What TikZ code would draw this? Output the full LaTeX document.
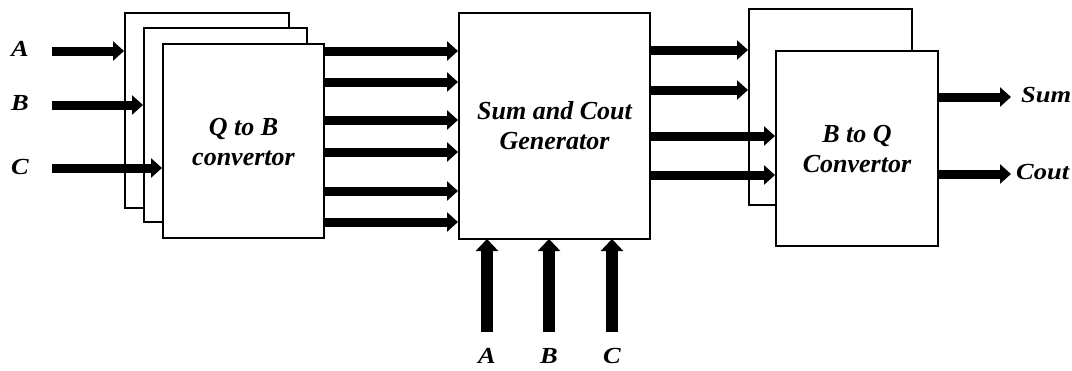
\documentclass[tikz,border=0pt]{standalone}
\usepackage{fontspec}
\setmainfont{Liberation Serif}
\newfontfamily\widefont[FakeStretch=1.15]{Liberation Serif}
\usetikzlibrary{arrows.meta}
\begin{document}
\begin{tikzpicture}[x=1pt,y=-1pt,
  blk/.style={draw,line width=2pt,fill=white,inner sep=0pt,anchor=north west},
  lbl/.style={font=\widefont\fontsize{23}{26}\selectfont\bfseries\itshape},
  olbl/.style={font=\widefont\fontsize{23}{26}\selectfont\bfseries\itshape,anchor=west,inner sep=0pt},
  txt/.style={font=\fontsize{26}{30}\selectfont\bfseries\itshape,align=center},
  arr/.style={line width=9pt,-{Triangle[length=11pt,width=19pt]}},
  arrv/.style={line width=12pt,-{Triangle[length=12pt,width=22pt]}}]
\useasboundingbox (0,0) rectangle (1072,370);
% left stack
\node[blk,minimum width=164pt,minimum height=195pt] (q1) at (124,12) {};
\node[blk,minimum width=163pt,minimum height=194pt] (q2) at (143,27) {};
\node[blk,minimum width=161pt,minimum height=194pt] (q3) at (162,43) {};
\node[txt] (qt) at ([yshift=-1pt]q3.center) {Q to B\\convertor};
% generator
\node[blk,minimum width=191pt,minimum height=226pt] (gen) at (458,12) {};
\node[txt] (gt) at ([yshift=0pt]gen.center) {Sum and Cout\\Generator};
% right stack
\node[blk,minimum width=163pt,minimum height=196pt] (b1) at (748,8) {};
\node[blk,minimum width=162pt,minimum height=195pt] (b2) at (775,50) {};
\node[txt] (bt) at ([yshift=-1pt]b2.center) {B to Q\\Convertor};
% input labels
\node[lbl] (lA) at (20,49) {A};
\node[lbl] (lB) at (20,103) {B};
\node[lbl] (lC) at (20,167) {C};
\draw[arr] (52,51) -- (q1.west |- 0,51);
\draw[arr] (52,105) -- (q2.west |- 0,105);
\draw[arr] (52,168) -- (q3.west |- 0,168);
% q3 -> gen
\foreach \y in {51,82,120,152,191,222}
  \draw[arr] (q3.east |- 0,\y) -- (gen.west |- 0,\y);
% gen -> right
\draw[arr] (gen.east |- 0,50) -- (b1.west |- 0,50);
\draw[arr] (gen.east |- 0,90) -- (b1.west |- 0,90);
\draw[arr] (gen.east |- 0,136) -- (b2.west |- 0,136);
\draw[arr] (gen.east |- 0,175) -- (b2.west |- 0,175);
% outputs
\node[olbl] (sum) at (1021,95) {Sum};
\node[olbl] (cout) at (1016,172) {Cout};
\draw[arr] (b2.east |- 0,97) -- (1011,97);
\draw[arr] (b2.east |- 0,174) -- (1011,174);
% bottom inputs
\node[lbl] (bA) at (487,356) {A};
\node[lbl] (bB) at (549,356) {B};
\node[lbl] (bC) at (612,356) {C};
\foreach \n/\x in {bA/487,bB/549,bC/612}
  \draw[arrv] (\x,332) -- (\x,239);
\end{tikzpicture}
\end{document}
